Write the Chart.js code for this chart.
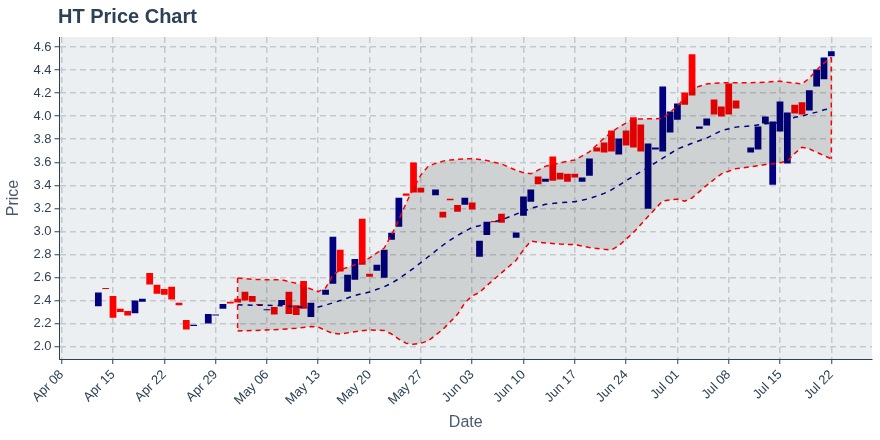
<!DOCTYPE html>
<html lang="en">

<head>
    <meta charset="UTF-8">
    <title>HT Price Chart</title>
    <script src="https://cdn.jsdelivr.net/npm/chart.js"></script>
    <style>
        body { margin: 0; background: #ffffff; }
        .graph { width: 880px; height: 440px; }
    </style>
</head>

<body>
    <div class="graph">
        <canvas id="myChartCanvas" width="880" height="440"></canvas>
    </div>
</body>

</html>

<script>
    // daily candles (body only): open / close
    const candleDates = [
        '2019-04-13', '2019-04-14', '2019-04-15', '2019-04-16', '2019-04-17', '2019-04-18', '2019-04-19',
        '2019-04-20', '2019-04-21', '2019-04-22', '2019-04-23', '2019-04-24', '2019-04-25', '2019-04-26',
        '2019-04-28', '2019-04-29', '2019-04-30', '2019-05-01', '2019-05-02', '2019-05-03', '2019-05-04',
        '2019-05-05', '2019-05-06', '2019-05-07', '2019-05-08', '2019-05-09', '2019-05-10', '2019-05-11',
        '2019-05-12', '2019-05-14', '2019-05-15', '2019-05-16', '2019-05-17', '2019-05-18', '2019-05-19',
        '2019-05-20', '2019-05-21', '2019-05-22', '2019-05-23', '2019-05-24', '2019-05-25', '2019-05-26',
        '2019-05-27', '2019-05-29', '2019-05-30', '2019-05-31', '2019-06-01', '2019-06-02', '2019-06-03',
        '2019-06-04', '2019-06-05', '2019-06-06', '2019-06-07', '2019-06-09', '2019-06-10', '2019-06-11',
        '2019-06-12', '2019-06-13', '2019-06-14', '2019-06-15', '2019-06-16', '2019-06-17', '2019-06-18',
        '2019-06-19', '2019-06-20', '2019-06-21', '2019-06-22', '2019-06-23', '2019-06-24', '2019-06-25',
        '2019-06-26', '2019-06-27', '2019-06-28', '2019-06-29', '2019-06-30', '2019-07-01', '2019-07-02',
        '2019-07-03', '2019-07-04', '2019-07-05', '2019-07-06', '2019-07-07', '2019-07-08', '2019-07-09',
        '2019-07-11', '2019-07-12', '2019-07-13', '2019-07-14', '2019-07-15', '2019-07-16', '2019-07-17',
        '2019-07-18', '2019-07-19', '2019-07-20', '2019-07-21', '2019-07-22'
    ];
    const opens = [
        2.35, 2.51, 2.44, 2.33, 2.31, 2.29, 2.39,
        2.64, 2.537, 2.50, 2.52, 2.38, 2.232, 2.18,
        2.20, 2.27, 2.33, 2.389, 2.415, 2.476, 2.44,
        2.37, 2.315, 2.345, 2.362, 2.476, 2.36, 2.57,
        2.258, 2.45, 2.545, 2.84, 2.476, 2.58, 3.11,
        2.632, 2.658, 2.597, 2.928, 3.04, 3.328, 3.597,
        3.38, 3.313, 3.17, 3.284, 3.23, 3.232, 3.25,
        2.78, 2.97, 3.09, 3.154, 2.945, 3.137, 3.258,
        3.476, 3.432, 3.65, 3.51, 3.50, 3.50, 3.432,
        3.484, 3.728, 3.771, 3.876, 3.667, 3.876, 3.99,
        3.928, 3.197, 3.71, 3.693, 3.858, 3.97, 4.206,
        4.537, 3.89, 3.92, 4.145, 4.085, 4.284, 4.137,
        3.684, 3.71, 3.937, 3.406, 3.867, 3.589, 4.10,
        4.12, 4.05, 4.258, 4.32, 4.519
    ];
    const closes = [
        2.47, 2.50, 2.25, 2.30, 2.27, 2.40, 2.415,
        2.54, 2.46, 2.45, 2.41, 2.36, 2.148, 2.19,
        2.284, 2.28, 2.37, 2.374, 2.383, 2.40, 2.39,
        2.36, 2.325, 2.28, 2.406, 2.284, 2.275, 2.33,
        2.38, 2.493, 2.954, 2.652, 2.623, 2.76, 2.71,
        2.606, 2.71, 2.84, 2.989, 3.293, 3.31, 3.337,
        3.337, 3.363, 3.12, 3.27, 3.17, 3.293, 3.19,
        2.92, 3.085, 3.08, 3.076, 2.99, 3.302, 3.363,
        3.41, 3.458, 3.44, 3.45, 3.432, 3.467, 3.467,
        3.632, 3.693, 3.684, 3.693, 3.806, 3.745, 3.728,
        3.693, 3.763, 3.728, 4.258, 4.04, 4.11, 4.10,
        4.18, 3.91, 3.98, 4.015, 3.998, 4.015, 4.067,
        3.728, 3.91, 3.998, 3.954, 4.128, 4.032, 4.024,
        4.015, 4.224, 4.406, 4.51, 4.563
    ];

    // bollinger bands
    const bandDates = [
        '2019-05-02', '2019-05-04', '2019-05-06', '2019-05-08', '2019-05-10', '2019-05-12', '2019-05-13',
        '2019-05-14', '2019-05-15', '2019-05-16', '2019-05-18', '2019-05-20', '2019-05-22', '2019-05-23',
        '2019-05-24', '2019-05-25', '2019-05-26', '2019-05-27', '2019-05-28', '2019-05-29', '2019-05-30',
        '2019-05-31', '2019-06-01', '2019-06-02', '2019-06-03', '2019-06-04', '2019-06-05', '2019-06-07',
        '2019-06-09', '2019-06-10', '2019-06-11', '2019-06-13', '2019-06-15', '2019-06-17', '2019-06-19',
        '2019-06-21', '2019-06-22', '2019-06-23', '2019-06-25', '2019-06-27', '2019-06-29', '2019-07-01',
        '2019-07-02', '2019-07-03', '2019-07-05', '2019-07-07', '2019-07-09', '2019-07-11', '2019-07-13',
        '2019-07-15', '2019-07-16', '2019-07-17', '2019-07-18', '2019-07-19', '2019-07-20', '2019-07-21',
        '2019-07-22'
    ];
    const bandUpper = [
        2.595, 2.585, 2.58, 2.58, 2.55, 2.50, 2.478,
        2.51, 2.62, 2.667, 2.71, 2.77, 2.856, 2.97,
        3.10, 3.247, 3.377, 3.49, 3.565, 3.59, 3.61,
        3.62, 3.625, 3.63, 3.63, 3.625, 3.615, 3.585,
        3.53, 3.51, 3.50, 3.565, 3.595, 3.62, 3.69,
        3.81, 3.86, 3.905, 3.975, 3.977, 3.98, 4.087,
        4.16, 4.238, 4.28, 4.29, 4.29, 4.29, 4.295,
        4.304, 4.295, 4.288, 4.278, 4.33, 4.40, 4.46,
        4.51
    ];
    const bandMiddle = [
        2.363, 2.36, 2.36, 2.355, 2.345, 2.34, 2.345,
        2.36, 2.38, 2.40, 2.445, 2.475, 2.52, 2.55,
        2.59, 2.635, 2.68, 2.73, 2.78, 2.83, 2.88,
        2.925, 2.965, 3.00, 3.035, 3.05, 3.07, 3.10,
        3.15, 3.175, 3.20, 3.235, 3.25, 3.258, 3.285,
        3.33, 3.36, 3.40, 3.48, 3.555, 3.635, 3.715,
        3.74, 3.765, 3.81, 3.875, 3.905, 3.915, 3.935,
        3.943, 3.96, 3.99, 4.00, 4.02, 4.035, 4.055,
        4.065
    ];
    const bandLower = [
        2.137, 2.14, 2.145, 2.15, 2.16, 2.175, 2.17,
        2.14, 2.115, 2.11, 2.13, 2.145, 2.14, 2.11,
        2.065, 2.03, 2.02, 2.03, 2.05, 2.10, 2.15,
        2.215, 2.28, 2.38, 2.44, 2.47, 2.53, 2.64,
        2.75, 2.84, 2.915, 2.90, 2.89, 2.885, 2.86,
        2.845, 2.84, 2.875, 2.99, 3.13, 3.265, 3.28,
        3.262, 3.29, 3.40, 3.50, 3.545, 3.56, 3.58,
        3.595, 3.61, 3.676, 3.73, 3.716, 3.687, 3.658,
        3.63
    ];

    const xTickLabels = ['Apr 08', 'Apr 15', 'Apr 22', 'Apr 29', 'May 06', 'May 13', 'May 20', 'May 27',
        'Jun 03', 'Jun 10', 'Jun 17', 'Jun 24', 'Jul 01', 'Jul 08', 'Jul 15', 'Jul 22'];
    const yTickValues = [2.0, 2.2, 2.4, 2.6, 2.8, 3.0, 3.2, 3.4, 3.6, 3.8, 4.0, 4.2, 4.4, 4.6];

    const corTexto = '#2d4156';
    const fonte = "'Liberation Sans', Arial, Helvetica, sans-serif";

    // day number counted from Apr 08
    const inicio = Date.UTC(2019, 3, 8);
    function dia(s) {
        const p = s.split('-');
        return (Date.UTC(+p[0], +p[1] - 1, +p[2]) - inicio) / 86400000;
    }

    const candles = candleDates.map((d, i) => ({ x: dia(d), y: [opens[i], closes[i]] }));
    const candleCores = opens.map((o, i) => closes[i] < o ? '#ff0000' : '#000080');

    const upper = bandDates.map((d, i) => ({ x: dia(d), y: bandUpper[i] }));
    const lower = bandDates.map((d, i) => ({ x: dia(d), y: bandLower[i] }));
    const middle = bandDates.map((d, i) => ({ x: dia(d), y: bandMiddle[i] }));
    const ultimo = bandDates.length - 1;
    const bordas = [
        { x: dia(bandDates[0]), y: bandUpper[0] },
        { x: dia(bandDates[0]), y: bandLower[0] },
        { x: dia(bandDates[0]) + 1, y: null },
        { x: dia(bandDates[ultimo]), y: bandUpper[ultimo] },
        { x: dia(bandDates[ultimo]), y: bandLower[ultimo] }
    ];

    const fundoPlot = {
        id: 'fundoPlot',
        beforeDraw(chart) {
            const a = chart.chartArea;
            const ctx = chart.ctx;
            ctx.save();
            ctx.fillStyle = '#eceff1';
            ctx.fillRect(a.left, a.top, a.right - a.left, a.bottom - a.top);
            ctx.restore();
        },
        afterDraw(chart) {
            const ctx = chart.ctx;
            ctx.save();
            ctx.fillStyle = corTexto;
            ctx.font = 'bold 20px ' + fonte;
            ctx.textBaseline = 'alphabetic';
            ctx.fillText('HT Price Chart', 58, 23);
            ctx.restore();
        }
    };

    const linhaBanda = {
        type: 'line',
        borderColor: '#ff0000',
        borderWidth: 1.5,
        borderDash: [5, 4],
        pointRadius: 0,
        tension: 0,
        spanGaps: false
    };

    const config = {
        type: 'bar',
        data: {
            datasets: [
                Object.assign({}, linhaBanda, { label: 'Upper', data: upper, fill: '+1', backgroundColor: 'rgba(0,0,0,0.12)', order: 2 }),
                Object.assign({}, linhaBanda, { label: 'Lower', data: lower, fill: false, order: 3 }),
                Object.assign({}, linhaBanda, { label: 'Edges', data: bordas, fill: false, order: 1 }),
                {
                    type: 'line',
                    label: 'Middle',
                    data: middle,
                    borderColor: '#000080',
                    borderWidth: 1.5,
                    borderDash: [5, 5],
                    pointRadius: 0,
                    fill: false,
                    order: 0
                },
                {
                    label: 'Price',
                    data: candles,
                    backgroundColor: candleCores,
                    borderWidth: 0,
                    barPercentage: 1,
                    categoryPercentage: 0.92,
                    minBarLength: 1,
                    order: 5
                }
            ]
        },
        options: {
            responsive: false,
            animation: false,
            events: [],
            layout: { padding: { top: 37, right: 8, left: 0, bottom: 0 } },
            plugins: {
                legend: { display: false },
                tooltip: { enabled: false },
                title: { display: false }
            },
            scales: {
                x: {
                    type: 'linear',
                    offset: false,
                    min: -0.3,
                    max: 110.55,
                    afterFit: (scale) => { scale.height = 81; },
                    afterBuildTicks: (scale) => {
                        scale.ticks = xTickLabels.map((t, i) => ({ value: i * 7 }));
                    },
                    ticks: {
                        callback: (v, i) => xTickLabels[i],
                        minRotation: 45,
                        maxRotation: 45,
                        color: corTexto,
                        padding: 3,
                        font: { family: fonte, size: 13 }
                    },
                    grid: {
                        offset: false,
                        color: '#c6c9cc',
                        lineWidth: 1.5,
                        tickColor: corTexto,
                        tickLength: 5,
                        tickWidth: 1,
                        tickBorderDash: []
                    },
                    border: { display: true, color: corTexto, width: 1, dash: [6, 4] },
                    title: {
                        display: true,
                        text: 'Date',
                        color: '#4a5b6e',
                        padding: { top: 4, bottom: 8 },
                        font: { family: fonte, size: 16 }
                    }
                },
                y: {
                    min: 1.893,
                    max: 4.687,
                    afterFit: (scale) => { scale.width = 59.5; },
                    afterBuildTicks: (scale) => {
                        scale.ticks = yTickValues.map(v => ({ value: v }));
                    },
                    ticks: {
                        callback: (v) => v.toFixed(1),
                        color: corTexto,
                        padding: 3,
                        font: { family: fonte, size: 13 }
                    },
                    grid: {
                        color: '#c6c9cc',
                        lineWidth: 1.5,
                        tickColor: corTexto,
                        tickLength: 5,
                        tickWidth: 1,
                        tickBorderDash: []
                    },
                    border: { display: true, color: corTexto, width: 1, dash: [6, 4] },
                    title: {
                        display: true,
                        text: 'Price',
                        color: '#4a5b6e',
                        padding: { top: 4, bottom: 4 },
                        font: { family: fonte, size: 16 }
                    }
                }
            }
        },
        plugins: [fundoPlot]
    };

    let myChart = new Chart(document.getElementById('myChartCanvas'), config);
</script>
